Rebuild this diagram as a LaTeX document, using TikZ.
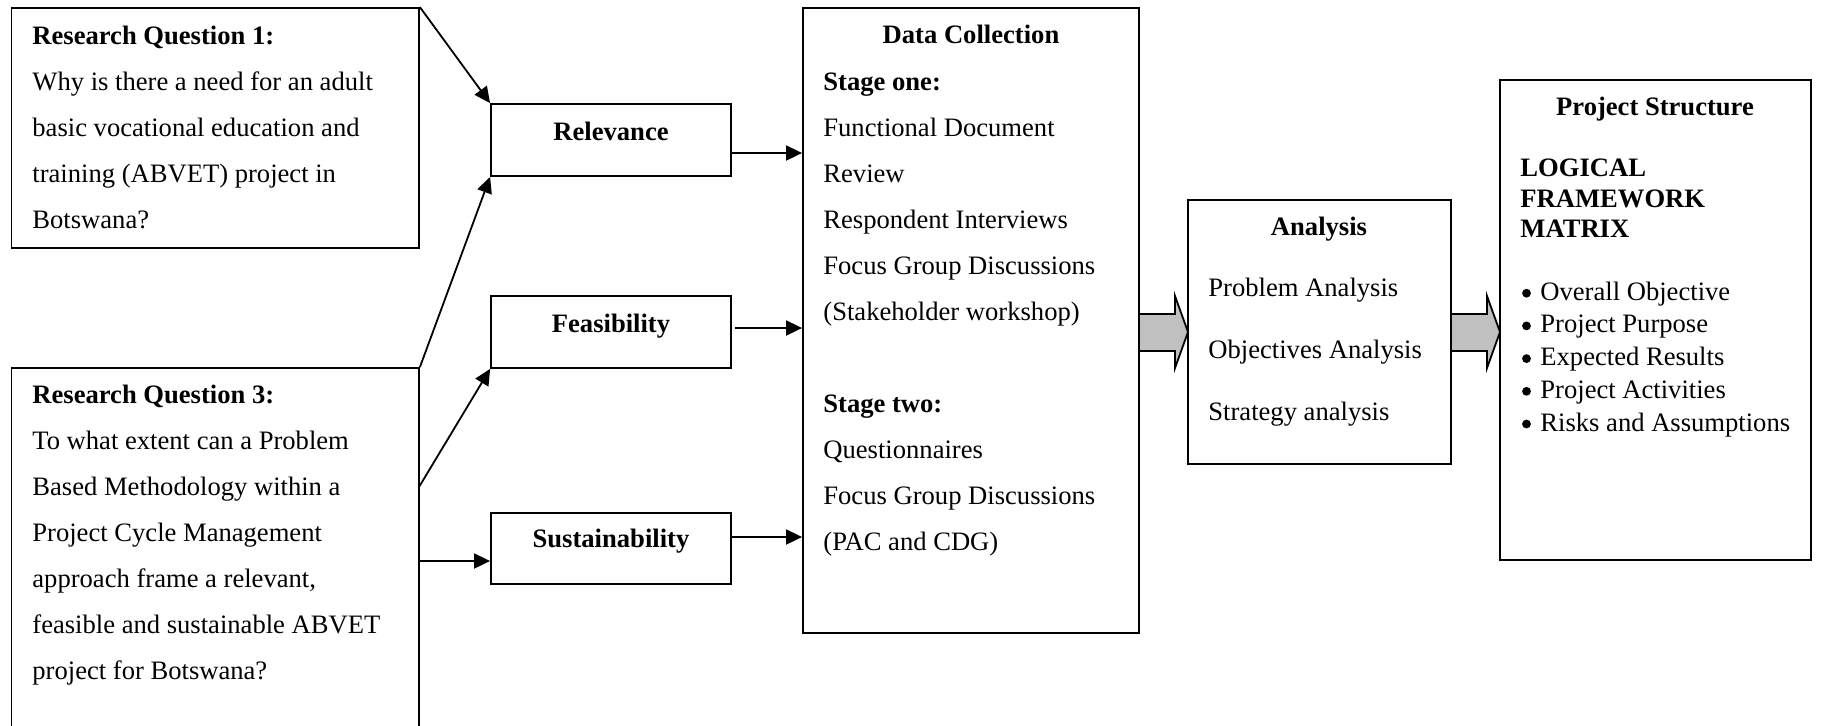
\documentclass[tikz,border=0pt]{standalone}
\usepackage{fontspec}
\setmainfont{Liberation Serif}
\usetikzlibrary{arrows.meta,fit}
\definecolor{blkgray}{RGB}{192,192,192}
\begin{document}
\begin{tikzpicture}[x=0.5pt,y=-0.5pt,
  box/.style={draw, line width=0.9pt, inner sep=0pt},
  txt/.style={anchor=base west, inner sep=0pt, font=\fontsize{13.3}{16}\selectfont},
  ctxt/.style={txt, anchor=base},
  hd/.style={font=\fontsize{13.3}{16}\selectfont\bfseries},
  bul/.style={circle, fill=black, inner sep=0pt, minimum size=4.4pt},
  arr/.style={line width=0.9pt, -{Triangle[length=8pt,width=7.5pt]}},
  blk/.style={draw, line width=0.9pt, fill=blkgray, line join=miter}]
\useasboundingbox (0,0) rectangle (1821,725);

% boxes
\node[box, fit={(11.5,8) (419,248)}] (rq1) {};
\node[box, fit={(11.5,368) (419,745)}] (rq3) {};
\node[box, fit={(491,104) (731,176)}] (rel) {};
\node[box, fit={(491,296) (731,368)}] (fea) {};
\node[box, fit={(491,513) (731,584)}] (sus) {};
\node[box, fit={(803,8) (1139,633)}] (dc) {};
\node[box, fit={(1188,200) (1451,464)}] (an) {};
\node[box, fit={(1500,80) (1811,560)}] (ps) {};

% Research question 1
\node[txt,hd] (rq1h) at (32,44) {Research Question 1:};
\foreach \t [count=\i] in {{Why is there a need for an adult},{basic vocational education and},{training (ABVET) project in},{Botswana?}}
  \node[txt] (rq1l\i) at (32,44+46*\i) {\t};

% Research question 3
\node[txt,hd] (rq3h) at (32,403) {Research Question 3:};
\foreach \t [count=\i] in {{To what extent can a Problem},{Based Methodology within a},{Project Cycle Management},{approach frame a relevant,},{feasible and sustainable ABVET},{project for Botswana?}}
  \node[txt] (rq3l\i) at (32,403+46*\i) {\t};

% criteria
\node[ctxt,hd] (relt) at (611,140) {Relevance};
\node[ctxt,hd] (feat) at (611,332) {Feasibility};
\node[ctxt,hd] (sust) at (611,547) {Sustainability};

% data collection
\node[ctxt,hd] (dct) at (971,43) {Data Collection};
\node[txt,hd] (dcs1) at (823,90) {Stage one:};
\foreach \t [count=\i] in {{Functional Document},{Review},{Respondent Interviews},{Focus Group Discussions},{(Stakeholder workshop)}}
  \node[txt] (dca\i) at (823,90+46*\i) {\t};
\node[txt,hd] (dcs2) at (823,412) {Stage two:};
\foreach \t [count=\i] in {{Questionnaires},{Focus Group Discussions},{(PAC and CDG)}}
  \node[txt] (dcb\i) at (823,412+46*\i) {\t};

% analysis
\node[ctxt,hd] (ant) at (1319,235) {Analysis};
\node[txt] (an1) at (1208,296) {Problem Analysis};
\node[txt] (an2) at (1208,358) {Objectives Analysis};
\node[txt] (an3) at (1208,420) {Strategy analysis};

% project structure
\node[ctxt,hd] (pst) at (1655,115) {Project Structure};
\node[txt,hd] (lf1) at (1520,176) {LOGICAL};
\node[txt,hd] (lf2) at (1520,207) {FRAMEWORK};
\node[txt,hd] (lf3) at (1520,237) {MATRIX};
\foreach \t [count=\i] in {{Overall Objective},{Project Purpose},{Expected Results},{Project Activities},{Risks and Assumptions}}{
  \node[bul] (psb\i) at (1526.5,260.5+32.7*\i) {};
  \node[txt] (pst\i) at (1540,267.5+32.7*\i) {\t};
}

% connectors
\draw[arr] (rq1.north east) -- (rel.north west);
\draw[arr] (rq3.north east) -- (rel.south west);
\coordinate (q3a) at (419,487);
\draw[arr] (q3a) -- (fea.south west);
\coordinate (q3b) at (419,561);
\draw[arr] (q3b) -- (q3b -| sus.west);
\coordinate (r1) at (731,153);
\draw[arr] (r1) -- (r1 -| dc.west);
\coordinate (f1) at (735,328);
\draw[arr] (f1) -- (f1 -| dc.west);
\coordinate (s1) at (731,537);
\draw[arr] (s1) -- (s1 -| dc.west);

% block arrows
\draw[blk] (1139,314) -- (1175,314) -- (1175,296) -- (1188,332) -- (1175,368) -- (1175,351) -- (1139,351) -- cycle;
\draw[blk] (1451,314) -- (1487,314) -- (1487,296) -- (1500,332) -- (1487,368) -- (1487,351) -- (1451,351) -- cycle;
\end{tikzpicture}
\end{document}
